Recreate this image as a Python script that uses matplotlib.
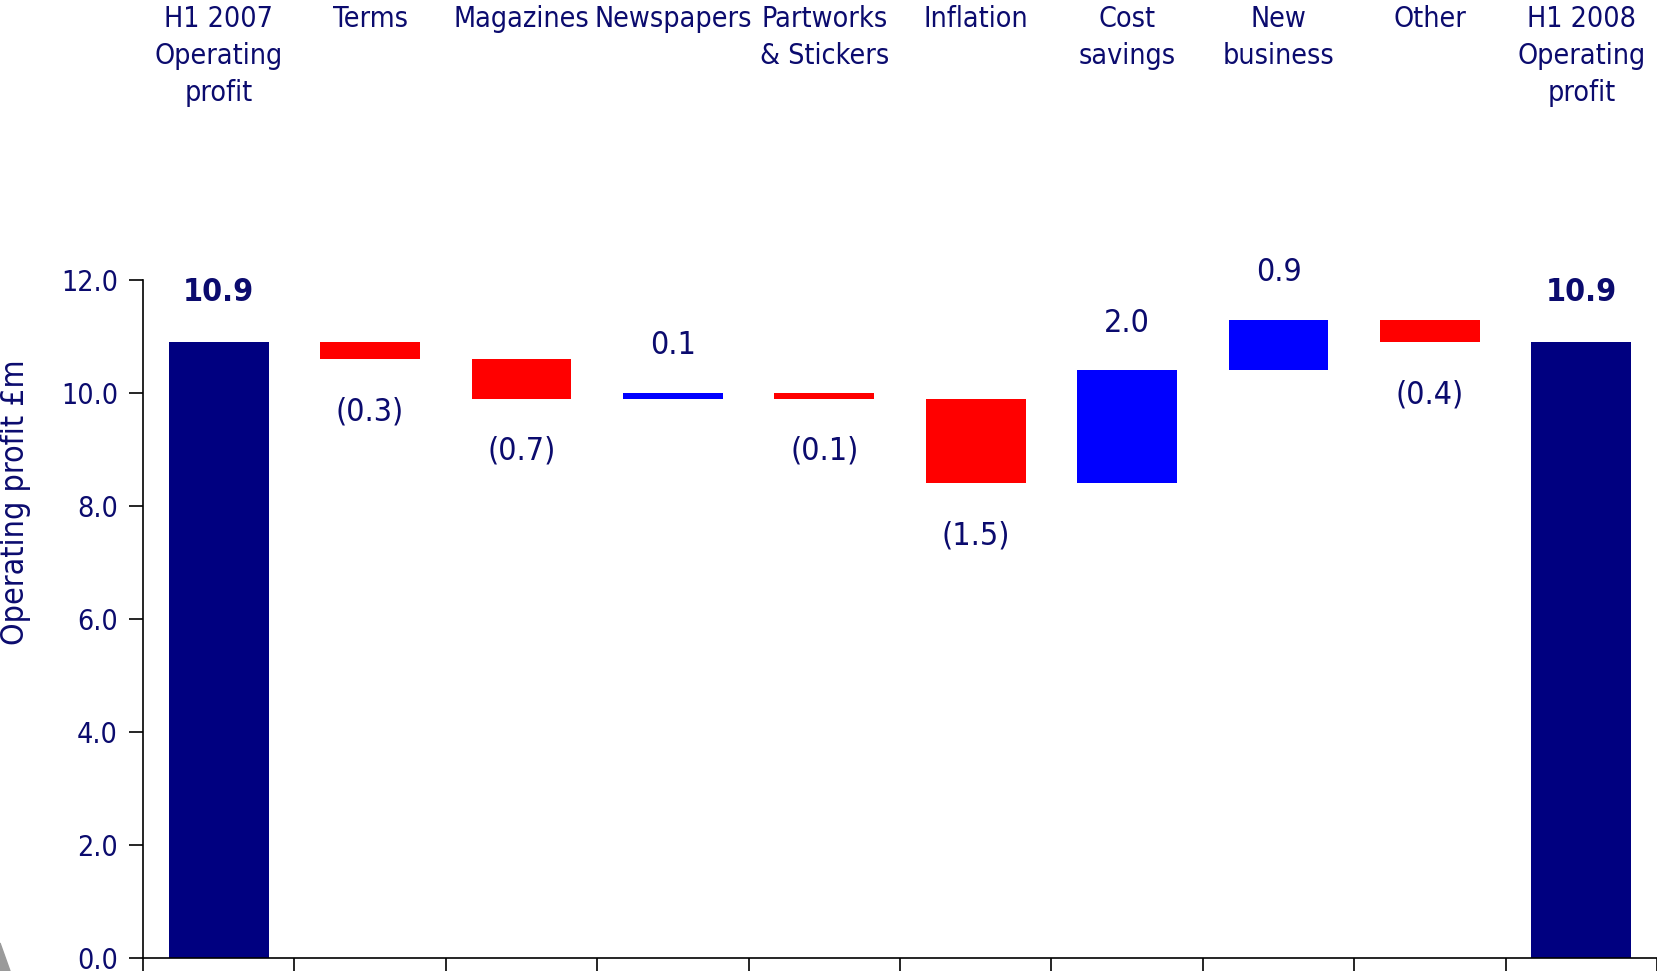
import matplotlib
matplotlib.use("Agg")
import matplotlib.pyplot as plt
import matplotlib.transforms as mtransforms
from matplotlib.patches import Polygon
import numpy as np

# categories and changes (GBP m)
categories = ["H1 2007\nOperating\nprofit", "Terms", "Magazines", "Newspapers",
              "Partworks\n& Stickers", "Inflation", "Cost\nsavings", "New\nbusiness",
              "Other", "H1 2008\nOperating\nprofit"]
start_value = 10.9
changes = [-0.3, -0.7, 0.1, -0.1, -1.5, 2.0, 0.9, -0.4]
end_value = 10.9
value_labels = ["10.9", "(0.3)", "(0.7)", "0.1", "(0.1)", "(1.5)", "2.0", "0.9", "(0.4)", "10.9"]

navy = "#000080"
text_col = "#0b0b6e"
font = dict(family="DejaVu Sans", stretch="condensed")

fig = plt.figure(figsize=(16.57, 9.71), dpi=100)
ax = fig.add_axes([143 / 1657, 13 / 971, 1 - 143 / 1657, (958 - 280) / 971])

x = np.arange(len(categories))
width = 0.66

# waterfall bottoms/heights
bottoms = [0]
heights = [start_value]
colors = [navy]
running = start_value
for c in changes:
    if c >= 0:
        bottoms.append(running)
        colors.append("#0000ff")
    else:
        bottoms.append(running + c)
        colors.append("#ff0000")
    heights.append(abs(c))
    running += c
bottoms.append(0)
heights.append(end_value)
colors.append(navy)

ax.bar(x, heights, width, bottom=bottoms, color=colors, linewidth=0)

# value labels
signs = [1] + [1 if c >= 0 else -1 for c in changes] + [1]
for i, (b, h, s, lab) in enumerate(zip(bottoms, heights, signs, value_labels)):
    bold = i in (0, len(categories) - 1)
    if s > 0:
        y = b + h
        off = 36 if bold else 34
    else:
        y = b
        off = -38
    ax.annotate(lab, (x[i], y), xytext=(0, off), textcoords="offset points",
                ha="center", va="center", fontsize=23, color=text_col,
                fontweight="bold" if bold else "normal", **font)

# category labels at the top
trans = mtransforms.blended_transform_factory(ax.transData, fig.transFigure)
for i, cat in enumerate(categories):
    ax.text(x[i], 1 - 5 / 971, cat, transform=trans, ha="center", va="top",
            fontsize=20.5, color=text_col, linespacing=1.42, **font)

ax.set_xlim(-0.5, len(categories) - 0.5)
ax.set_ylim(0, 12)
yt = np.arange(0, 12.1, 2)
ax.set_yticks(yt)
ax.set_yticklabels([f"{v:.1f}" for v in yt], fontsize=20.5, color=text_col, **font)
ax.set_xticks(np.arange(-0.5, len(categories) - 0.4, 1))
ax.set_xticklabels([])
ax.tick_params(axis="y", length=10, width=1.2, pad=8)
ax.tick_params(axis="x", length=12, width=1.2)
for sp in ["top", "right"]:
    ax.spines[sp].set_visible(False)
ax.spines["left"].set_linewidth(1.2)
ax.spines["bottom"].set_linewidth(1.2)

fig.text(16 / 1657, 0.483, "Operating profit £m", rotation=90, ha="center", va="center",
         fontsize=23, color=text_col, **font)

# small grey corner decoration
fig.patches.append(Polygon([[0, 0], [0, 28 / 971], [10 / 1657, 0]], closed=True,
                           transform=fig.transFigure, color="#9a9a9a", zorder=0))

fig.savefig("out.png", dpi=100)
